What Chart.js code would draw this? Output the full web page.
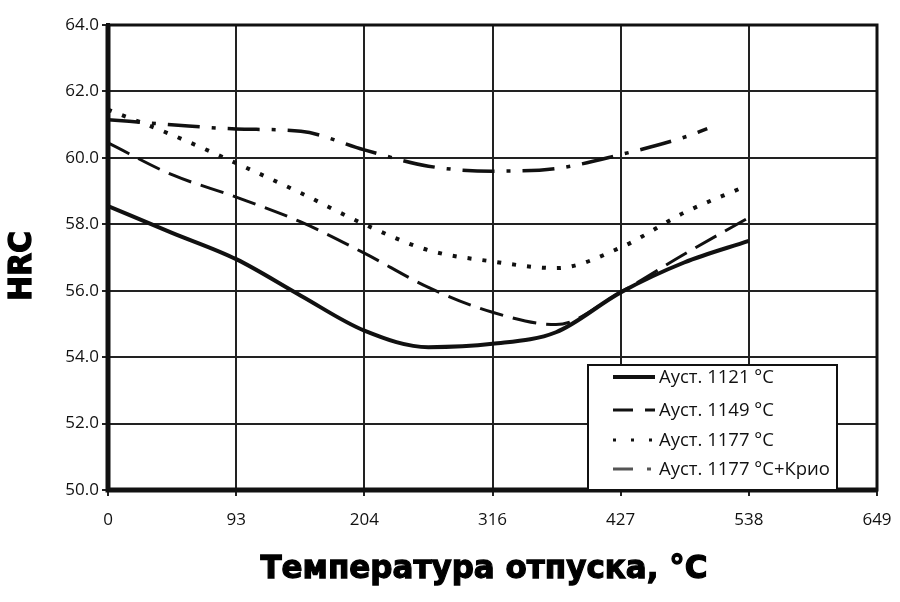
<!DOCTYPE html>
<html>
<head>
<meta charset="utf-8">
<script src="https://cdn.jsdelivr.net/npm/chart.js@4"></script>
<style>
  body { margin: 0; background: #fff; }
  #wrap { width: 900px; height: 602px; }
</style>
</head>
<body>
<div id="wrap"><canvas id="hrcChart" width="900" height="602"></canvas></div>
<script>
// x axis tick labels (temperature, °C) - drawn equally spaced like in the original
const tickTemps = [0, 93, 204, 316, 427, 538, 649];

// read-off temperatures for each curve
const tempsMain = [0, 46, 93, 149, 204, 260, 316, 371, 427, 482, 538];
const temps1177 = [0, 46, 93, 149, 204, 260, 316, 371, 427, 482, 532];
const tempsCryo = [0, 46, 93, 149, 204, 260, 316, 371, 427, 482, 502];

// HRC values
const hrc1121 = [58.55, 57.75, 56.95, 55.85, 54.8, 54.3, 54.4, 54.75, 55.95, 56.85, 57.5];
const hrc1149 = [60.45, 59.5, 58.82, 58.07, 57.13, 56.1, 55.35, 54.98, 55.96, 57.1, 58.2];
const hrc1177 = [61.45, 60.7, 59.84, 58.94, 58.0, 57.22, 56.88, 56.68, 57.3, 58.35, 59.1];
const hrcCryo = [61.15, 61.0, 60.87, 60.8, 60.24, 59.75, 59.6, 59.68, 60.1, 60.62, 60.88];

const seriesNames = ["Аyст. 1121 °C", "Аyст. 1149 °C", "Аyст. 1177 °C", "Аyст. 1177 °C+Крио"];
const xTitle = "Температура отпуска, °C";
const yTitle = "HRC";

// temperature -> position on the equally spaced axis
function tempPos(t) {
    for (let i = 0; i < tickTemps.length - 1; i++) {
        if (t <= tickTemps[i + 1]) {
            return i + (t - tickTemps[i]) / (tickTemps[i + 1] - tickTemps[i]);
        }
    }
    return tickTemps.length - 1;
}

function points(temps, vals) {
    return temps.map((t, i) => ({x: tempPos(t), y: vals[i]}));
}

const ink = "#111";

// dash patterns used for the little samples in the legend box
const legendDash = [[], [20, 12], [3, 15], [20, 14, 4, 100]];
const legendColor = [ink, ink, ink, "#555"];

const legendPlugin = {
    id: "boxLegend",
    afterDraw(chart) {
        const ctx = chart.ctx;
        const area = chart.chartArea;
        const x0 = 588, y0 = 365, w = 249, h = area.bottom - 365;
        ctx.save();
        ctx.fillStyle = "#fff";
        ctx.fillRect(x0, y0, w, h);
        ctx.strokeStyle = ink;
        ctx.lineWidth = 2;
        ctx.strokeRect(x0, y0, w, h);
        const rows = [377, 410, 440, 469];
        chart.data.datasets.forEach((ds, i) => {
            ctx.beginPath();
            ctx.setLineDash(legendDash[i]);
            ctx.lineWidth = i === 0 ? 4 : 3;
            ctx.strokeStyle = legendColor[i];
            ctx.moveTo(613, rows[i]);
            ctx.lineTo(655, rows[i]);
            ctx.stroke();
            ctx.setLineDash([]);
            ctx.fillStyle = ink;
            ctx.font = "18.5px 'Open Sans'";
            ctx.textBaseline = "middle";
            ctx.fillText(ds.label, 659, rows[i] + 1);
        });
        ctx.restore();
    }
};

const framePlugin = {
    id: "frame",
    beforeDatasetsDraw(chart) {
        const ctx = chart.ctx;
        const a = chart.chartArea;
        ctx.save();
        ctx.strokeStyle = ink;
        ctx.lineWidth = 3;
        ctx.strokeRect(a.left, a.top, a.right - a.left, a.bottom - a.top);
        ctx.lineWidth = 5;
        ctx.beginPath();
        ctx.moveTo(a.left, a.top);
        ctx.lineTo(a.left, a.bottom);
        ctx.lineTo(a.right, a.bottom);
        ctx.stroke();
        ctx.restore();
    }
};

// heavy axis titles
const titlePlugin = {
    id: "heavyTitles",
    afterDraw(chart) {
        const ctx = chart.ctx;
        ctx.save();
        ctx.fillStyle = "#000";
        ctx.strokeStyle = "#000";
        ctx.lineWidth = 1.2;
        ctx.textAlign = "center";
        ctx.textBaseline = "alphabetic";
        ctx.font = "bold 31px 'DejaVu Sans'";
        ctx.save();
        ctx.translate(484, 578);
        ctx.scale(1, 1.05);
        ctx.fillText(xTitle, 0, 0);
        ctx.strokeText(xTitle, 0, 0);
        ctx.restore();
        ctx.save();
        ctx.translate(31, 266);
        ctx.rotate(-Math.PI / 2);
        ctx.scale(1, 1.08);
        ctx.font = "bold 30px 'DejaVu Sans'";
        ctx.fillText(yTitle, 0, 0);
        ctx.strokeText(yTitle, 0, 0);
        ctx.restore();
        ctx.restore();
    }
};

const ctx = document.getElementById("hrcChart").getContext("2d");
new Chart(ctx, {
    type: "line",
    data: {
        datasets: [{
            label: seriesNames[0],
            data: points(tempsMain, hrc1121),
            borderColor: ink, borderWidth: 4
        }, {
            label: seriesNames[1],
            data: points(tempsMain, hrc1149),
            borderColor: ink, borderWidth: 3, borderDash: [24, 10]
        }, {
            label: seriesNames[2],
            data: points(temps1177, hrc1177),
            borderColor: ink, borderWidth: 4, borderDash: [4, 11]
        }, {
            label: seriesNames[3],
            data: points(tempsCryo, hrcCryo),
            borderColor: ink, borderWidth: 3.5, borderDash: [32, 12, 4, 12]
        }]
    },
    options: {
        responsive: false,
        animation: false,
        elements: {
            point: {radius: 0},
            line: {cubicInterpolationMode: "monotone", fill: false}
        },
        layout: {padding: {top: 25, right: 23, left: 0, bottom: 0}},
        plugins: {
            legend: {display: false},
            tooltip: {enabled: false}
        },
        scales: {
            x: {
                type: "linear",
                min: 0,
                max: tickTemps.length - 1,
                afterFit(scale) {
                    scale.height = 112;
                    scale.paddingLeft = 0;
                    scale.paddingRight = 0;
                },
                ticks: {
                    stepSize: 1,
                    padding: 14,
                    color: ink,
                    font: {family: "'Open Sans'", size: 17},
                    callback: (v) => tickTemps[v]
                },
                grid: {color: "#222", lineWidth: 2, tickLength: 6},
                border: {color: ink, width: 4}
            },
            y: {
                min: 50,
                max: 64,
                afterFit(scale) {
                    scale.width = 108;
                    scale.paddingTop = 0;
                    scale.paddingBottom = 0;
                },
                ticks: {
                    stepSize: 2,
                    padding: 3,
                    color: ink,
                    font: {family: "'Open Sans'", size: 17},
                    callback: (v) => v.toFixed(1)
                },
                grid: {color: "#222", lineWidth: 2, tickLength: 6},
                border: {color: ink, width: 4}
            }
        }
    },
    plugins: [framePlugin, legendPlugin, titlePlugin]
});
</script>
</body>
</html>
